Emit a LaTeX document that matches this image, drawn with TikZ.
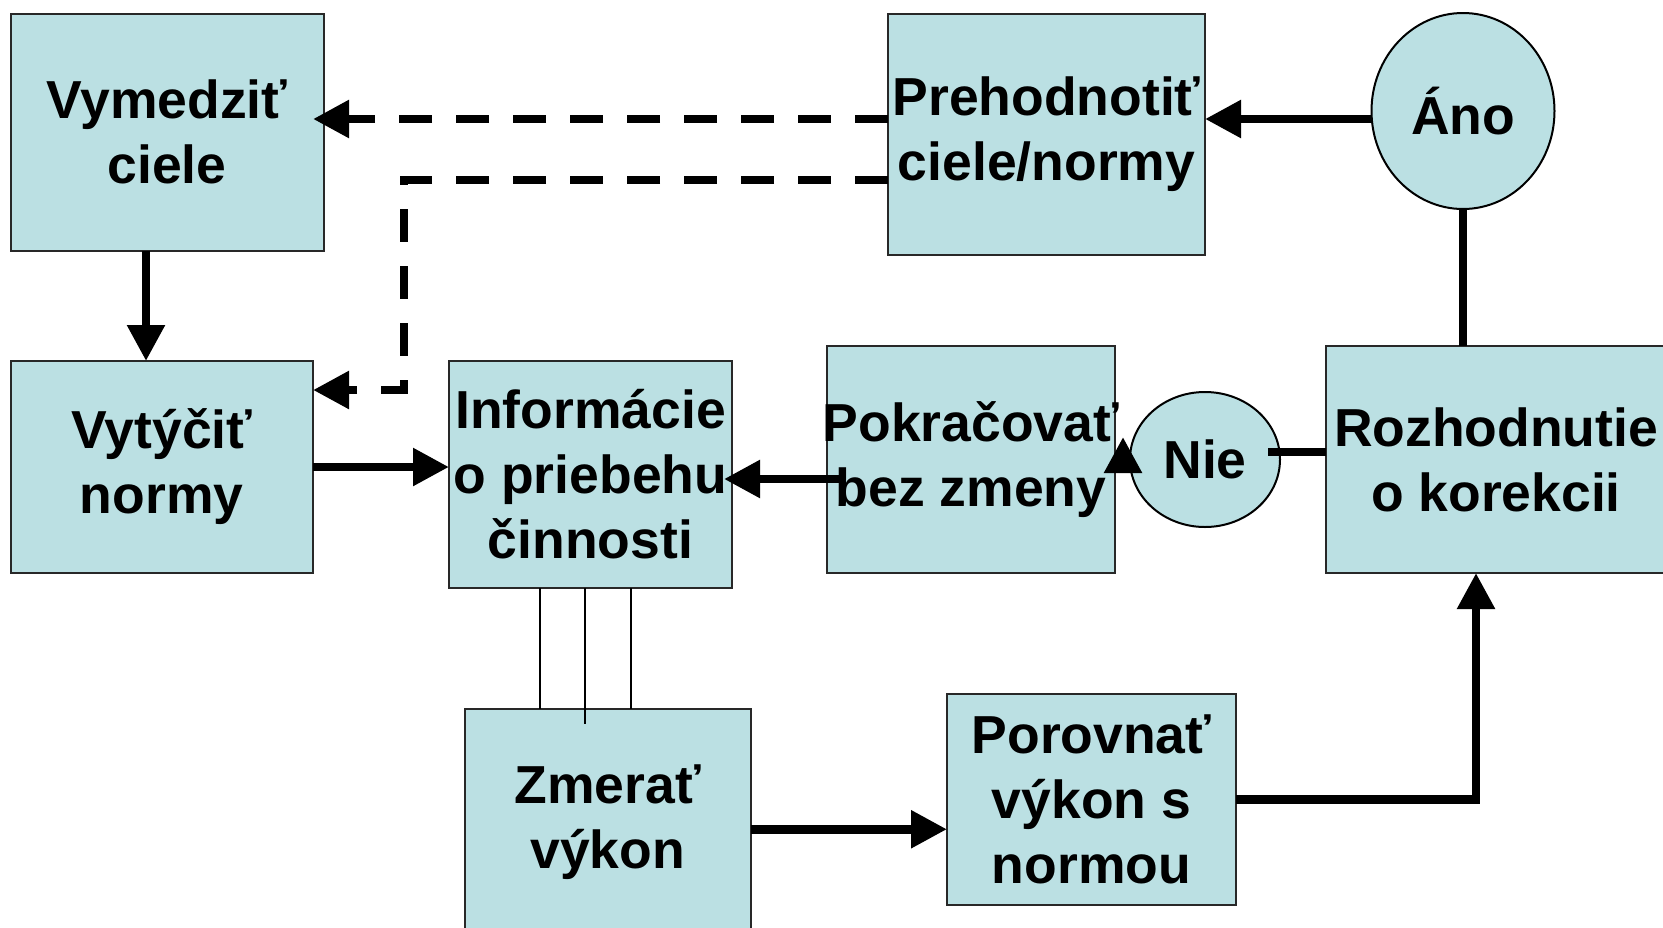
\documentclass[tikz,border=0pt]{standalone}
\usepackage{fontspec}
\setmainfont{Liberation Sans}
\usetikzlibrary{arrows.meta,shapes.geometric}
\definecolor{boxfill}{RGB}{187,224,227}
\definecolor{boxline}{RGB}{40,40,40}

\begin{document}
\begin{tikzpicture}[x=1pt,y=-1pt,
  every node/.style={font=\bfseries\fontsize{53.5}{65}\selectfont, align=center, inner sep=0pt, outer sep=0pt},
  box/.style={draw=boxline, line width=2pt, fill=boxfill, rectangle},
  oval/.style={draw=black, line width=2pt, fill=boxfill, ellipse},
  arr/.style={line width=8.5pt, -{Triangle[length=36pt,width=36pt]}},
  darr/.style={arr, dash pattern=on 33pt off 24pt},
  link/.style={line width=8.5pt},
  thinlink/.style={line width=1.8pt}]

\useasboundingbox (0,0) rectangle (1663,927);
\clip (0,0) rectangle (1663,927);

% boxes and decision ovals
\node[box, minimum width=313pt, minimum height=237pt] (vym) at (167,132) {Vymedziť\\ciele};
\node[box, minimum width=317pt, minimum height=241pt] (preh) at (1046.5,134.5) {Prehodnotiť\\ciele/normy};
\node[oval, minimum width=183pt, minimum height=196pt] (ano) at (1463,111) {Áno};
\node[box, minimum width=302.5pt, minimum height=212pt] (vyt) at (161.75,467) {Vytýčiť\\normy};
\node[box, minimum width=283pt, minimum height=227pt] (info) at (590.5,474.5) {Informácie\\o priebehu\\činnosti};
\node[box, minimum width=288pt, minimum height=227pt] (pok) at (971,459.5)
  {\makebox[260pt]{Pokračovať}\\\makebox[260pt]{bez zmeny}};
\node[oval, minimum width=150pt, minimum height=135pt] (nie) at (1205,459.5) {Nie};
\node[box, minimum width=340pt, minimum height=227pt] (roz) at (1496,459.5) {Rozhodnutie\\o korekcii};
\node[box, minimum width=286.5pt, minimum height=227.5pt] (zme) at (607.75,822.25) {Zmerať\\výkon};
\node[box, minimum width=289pt, minimum height=211pt] (por) at (1091.5,799.5) {Porovnať\\výkon s\\normou};

% feedback loop: revise goals and norms
\draw[arr] ([yshift=-8pt]ano.west) -- ([yshift=-8pt]ano.west -| preh.east);
\draw[darr, shorten >=-10.5pt] ([yshift=15.5pt]preh.west) -- ([yshift=15.5pt]preh.west -| vym.east);
\coordinate (bend) at (404,390);
\draw[darr] ([yshift=-45.5pt]preh.west) -| (bend) -- (bend -| vyt.east);

% main flow
\draw[arr] ([xshift=-21pt]vym.south) -- ([xshift=-21pt]vym.south |- vyt.north);
\draw[arr] (vyt.east) -- (vyt.east -| info.west);
\draw[arr, shorten <=-14pt, shorten >=-8pt] ([yshift=-19.5pt]pok.west) -- ([yshift=-19.5pt]pok.west -| info.east);
\draw[arr] ([yshift=-7pt]zme.east) -- ([yshift=-7pt]zme.east -| por.west);
\draw[arr] (por.east) -| ([xshift=-20pt]roz.south);

% decision branches
\draw[link] (ano.south) -- (ano.south |- roz.north);
\draw[link, shorten >=-12pt] ([yshift=7.5pt]roz.west) -- ([yshift=7.5pt]roz.west -| nie.east);
\coordinate (tipbase) at (1123,467);
\coordinate (tiptop) at (1123,437);
\draw[arr] (tipbase) -- (tiptop);

% measurement links
\draw[thinlink] ([xshift=-50.5pt]info.south) -- ([xshift=-50.5pt]info.south |- zme.north);
\draw[thinlink, shorten >=-15.5pt] ([xshift=-5.5pt]info.south) -- ([xshift=-5.5pt]info.south |- zme.north);
\draw[thinlink] ([xshift=40.5pt]info.south) -- ([xshift=40.5pt]info.south |- zme.north);
\end{tikzpicture}
\end{document}
